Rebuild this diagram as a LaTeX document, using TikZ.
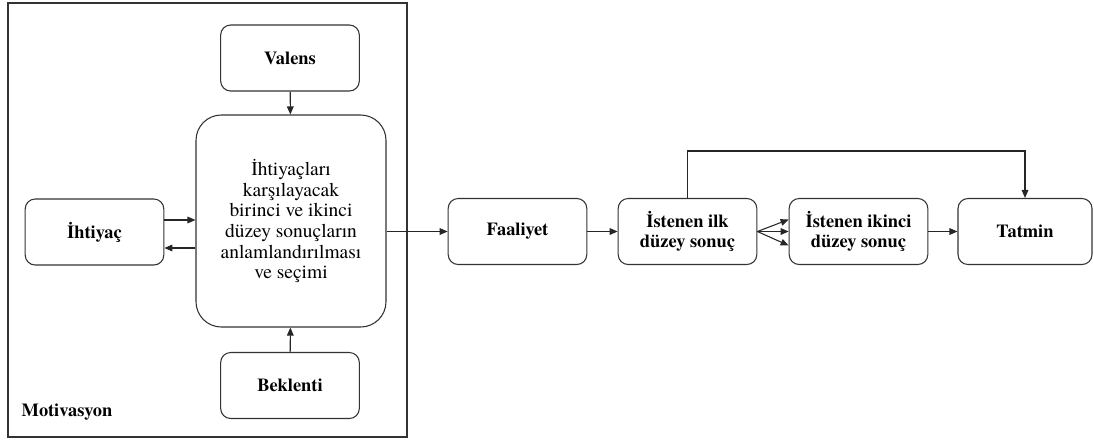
\documentclass[tikz,border=0pt]{standalone}
\usepackage{fontspec}
\setmainfont{texgyretermes}[Extension=.otf, UprightFont=*-regular, BoldFont=*-bold, ItalicFont=*-italic, BoldItalicFont=*-bolditalic]
\usetikzlibrary{arrows.meta,positioning,calc}

\begin{document}
\begin{tikzpicture}[x=0.75pt,y=-0.75pt,
  box/.style={draw=black!80, line width=0.8pt, rounded corners=7.5pt,
              minimum width=104pt, minimum height=49.5pt, align=center,
              font=\bfseries\fontsize{13.8pt}{15.5pt}\selectfont},
  bigbox/.style={draw=black!80, line width=0.8pt, rounded corners=19pt,
              minimum width=142.5pt, minimum height=159pt, align=center,
              font=\fontsize{14.6pt}{15.5pt}\selectfont},
  arr/.style={-{Triangle[length=6pt,width=5pt]}, line width=0.8pt, draw=black!85}
]
\useasboundingbox (0,0) rectangle (1094,440);
\draw[line width=0.8pt, black!80] (8,3) rectangle (407,437);
\node[anchor=west, font=\bfseries\fontsize{13.8pt}{15.5pt}\selectfont] (motiv) at (17,412) {Motivasyon};

\node[bigbox] (secim)   at (291,221)   {İhtiyaçları\\karşılayacak\\birinci ve ikinci\\düzey sonuçların\\anlamlandırılması\\ve seçimi};
\node[box]    (valens)  at (290,58)    {Valens};
\node[box]    (beklenti) at (290,385.5) {Beklenti};
\node[box]    (ihtiyac) at (94.5,232)  {İhtiyaç};
\node[box]    (faaliyet) at (517.5,231.5) {Faaliyet};
\node[box]    (ilk)     at (687.5,231.5) {İstenen ilk\\düzey sonuç};
\node[box]    (ikinci)  at (858.5,231.5) {İstenen ikinci\\düzey sonuç};
\node[box, minimum width=100.5pt] (tatmin) at (1025,231.5) {Tatmin};

\draw[arr] (valens) -- (secim);
\draw[arr] (beklenti) -- (secim);
\draw[arr] ($(ihtiyac.east)+(0,-12)$) -- ($(secim.west)+(0,-1)$);
\draw[arr] ($(secim.west)+(0,27)$) -- ($(ihtiyac.east)+(0,16)$);
\draw[arr] (secim.east |- faaliyet.west) -- (faaliyet.west);
\draw[arr] (faaliyet) -- (ilk);
\draw[arr] (ilk.east) -- ($(ikinci.west)+(0,-12)$);
\draw[arr] (ilk.east) -- (ikinci.west);
\draw[arr] (ilk.east) -- ($(ikinci.west)+(0,14)$);
\draw[arr] (ikinci) -- (tatmin);
\draw[arr] (ilk.north) -- ++(0,-47) -| (tatmin.north);
\end{tikzpicture}
\end{document}
